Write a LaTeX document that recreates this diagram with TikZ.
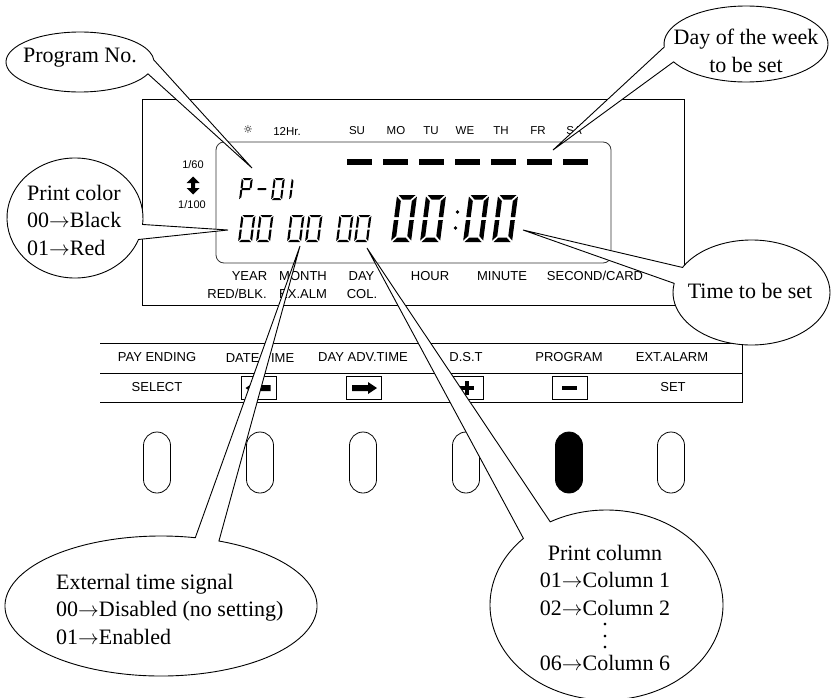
\documentclass[tikz,border=0pt]{standalone}
\usepackage{fontspec}
\setmainfont{Liberation Serif}
\setsansfont{Liberation Sans}
\newfontfamily\dejavu{DejaVu Sans}
\usetikzlibrary{arrows.meta}
% seven-segment pieces (local coords: origin bottom-left, y downwards)
\newcommand\sgsA{\fill ({\sgG},{-\sgH}) -- ({\sgW-\sgG},{-\sgH}) -- ({\sgW-\sgG-\sgT},{-\sgH+\sgT}) -- ({\sgG+\sgT},{-\sgH+\sgT}) -- cycle;}
\newcommand\sgsD{\fill ({\sgG},0) -- ({\sgW-\sgG},0) -- ({\sgW-\sgG-\sgT},{-\sgT}) -- ({\sgG+\sgT},{-\sgT}) -- cycle;}
\newcommand\sgsF{\fill (0,{-\sgH+\sgG}) -- ({\sgT},{-\sgH+\sgG+\sgT}) -- ({\sgT},{-\sgH/2-\sgG}) -- (0,{-\sgH/2-\sgG}) -- cycle;}
\newcommand\sgsE{\fill (0,{-\sgH/2+\sgG}) -- ({\sgT},{-\sgH/2+\sgG}) -- ({\sgT},{-\sgG-\sgT}) -- (0,{-\sgG}) -- cycle;}
\newcommand\sgsB{\fill ({\sgW},{-\sgH+\sgG}) -- ({\sgW-\sgT},{-\sgH+\sgG+\sgT}) -- ({\sgW-\sgT},{-\sgH/2-\sgG}) -- ({\sgW},{-\sgH/2-\sgG}) -- cycle;}
\newcommand\sgsC{\fill ({\sgW},{-\sgH/2+\sgG}) -- ({\sgW-\sgT},{-\sgH/2+\sgG}) -- ({\sgW-\sgT},{-\sgG-\sgT}) -- ({\sgW},{-\sgG}) -- cycle;}
\newcommand\sgsG{\fill ({\sgG},{-\sgH/2}) -- ({\sgG+\sgT/2},{-\sgH/2-\sgT/2}) -- ({\sgW-\sgG-\sgT/2},{-\sgH/2-\sgT/2}) -- ({\sgW-\sgG},{-\sgH/2}) -- ({\sgW-\sgG-\sgT/2},{-\sgH/2+\sgT/2}) -- ({\sgG+\sgT/2},{-\sgH/2+\sgT/2}) -- cycle;}
\newcommand\digitzero[2]{\begin{scope}[shift={(#1,#2)},xslant=\sgK]\sgsA\sgsB\sgsC\sgsD\sgsE\sgsF\end{scope}}
\newcommand\digitP[2]{\begin{scope}[shift={(#1,#2)},xslant=\sgK]\sgsA\sgsB\sgsF\sgsE\sgsG\end{scope}}
\newcommand\digitdash[2]{\begin{scope}[shift={(#1,#2)},xslant=\sgK]\sgsG\end{scope}}
\newcommand\digitone[2]{\begin{scope}[shift={(#1,#2)},xslant=\sgK]\sgsE\sgsF\end{scope}}
\newcommand\tallvdots{\smash{\makebox[0pt]{\raisebox{17pt}{.}}\makebox[0pt]{\raisebox{5.5pt}{.}}\makebox[0pt]{\raisebox{-6pt}{.}}}}
\newcommand\arr{$\rightarrow$}
\tikzset{
  lbl/.style={font=\sffamily\fontsize{13}{15}\selectfont, inner sep=0pt},
  toplbl/.style={font=\sffamily\fontsize{11.5}{13}\selectfont, inner sep=0pt},
  smalllbl/.style={font=\sffamily\fontsize{11}{13}\selectfont, inner sep=0pt},
  btxt/.style={font=\fontsize{22}{27.5}\selectfont, inner sep=0pt},
  bubble/.style={draw, fill=white, line width=0.9pt, line join=miter},
  keybox/.style={draw, line width=0.8pt, minimum width=35pt, minimum height=23pt, inner sep=0pt},
  keyoval/.style={draw, line width=0.8pt, minimum width=27pt, minimum height=61pt, rounded corners=13.5pt, inner sep=0pt},
}
\begin{document}
\begin{tikzpicture}[x=1pt,y=-1pt]
\useasboundingbox (0,0) rectangle (832,698);

% panel and LCD window
\draw[line width=0.9pt] (142,99) rectangle (684,305);
\draw[line width=0.8pt, black!80, rounded corners=8pt] (216,142) rectangle (611,263);

% labels above the LCD
\node[font=\dejavu\fontsize{11}{11}\selectfont, inner sep=0pt] (sun) at (248,129) {☼};
\node[toplbl] (h12) at (287,131) {12Hr.};
\node[toplbl] (su) at (357,131) {SU};
\node[toplbl] (mo) at (396,131) {MO};
\node[toplbl] (tu) at (431,131) {TU};
\node[toplbl] (we) at (465,131) {WE};
\node[toplbl] (th) at (501,131) {TH};
\node[toplbl] (fr) at (538,131) {FR};
\node[toplbl] (sa) at (574,131) {SA};

% day-of-week bars
\foreach \i in {0,...,6} \fill ({347+36*\i},158.5) rectangle ++(25,6.5);

% 1/60 - 1/100
\node[smalllbl] (r60) at (193,165) {1/60};
\node[smalllbl] (r100) at (192,205) {1/100};
\fill (193,176.5) -- (199.5,183) -- (195,183) -- (195,188) -- (199.5,188) -- (193,194.5) -- (186.5,188) -- (191,188) -- (191,183) -- (186.5,183) -- cycle;

% seven-segment digits
\def\sgK{0.13}
\def\sgW{11}\def\sgH{22}\def\sgT{2}\def\sgG{0.8}
\digitP{239}{200}\digitdash{255}{200}\digitzero{271}{200}\digitone{289}{200}
\def\sgW{14}\def\sgH{27}\def\sgT{2.2}\def\sgG{1}
\digitzero{238}{242}\digitzero{256}{242}
\digitzero{287}{242}\digitzero{305}{242}
\digitzero{336}{242}\digitzero{354}{242}
\def\sgW{20}\def\sgH{47}\def\sgT{4.5}\def\sgG{1.5}
\digitzero{391}{242}\digitzero{420}{242}
\digitzero{463}{242}\digitzero{492}{242}
\fill (457.5,212) circle (1.9);
\fill (455.5,228) circle (1.9);

% labels below the LCD
\node[lbl] (year) at (249.5,276) {YEAR};
\node[lbl] (month) at (303,276) {MONTH};
\node[lbl] (day) at (361.5,276) {DAY};
\node[lbl] (hour) at (430,276) {HOUR};
\node[lbl] (minute) at (502,276) {MINUTE};
\node[lbl] (second) at (595,276) {SECOND/CARD};
\node[lbl] (redblk) at (237,294) {RED/BLK.};
\node[lbl] (exalm) at (303,294) {EX.ALM};
\node[lbl] (col) at (362,294) {COL.};

% key legend strip
\draw[line width=0.9pt] (100,343) -- (742,343) -- (742,402) -- (100,402);
\draw[line width=0.9pt] (100,373) -- (742,373);
\node[lbl] (payend) at (157,357.5) {PAY ENDING};
\node[lbl] (datetime) at (260,357.5) {DATE/TIME};
\node[lbl] (dayadv) at (363,357.5) {DAY ADV.TIME};
\node[lbl] (dst) at (466,357.5) {D.S.T};
\node[lbl] (program) at (569,357.5) {PROGRAM};
\node[lbl] (extalarm) at (672,357.5) {EXT.ALARM};
\node[lbl] (select) at (157,387.5) {SELECT};
\node[keybox] (kL) at (259,388) {};
\node[keybox] (kR) at (363.5,388) {};
\node[keybox] (kP) at (466,388) {};
\node[keybox] (kM) at (569.5,388) {};
\node[lbl] (set) at (673,387.5) {SET};
\fill (352,385) -- (368,385) -- (368,382) -- (377,388) -- (368,394) -- (368,391) -- (352,391) -- cycle;
\fill (270.5,385) -- (254.5,385) -- (254.5,382) -- (245.5,388) -- (254.5,394) -- (254.5,391) -- (270.5,391) -- cycle;
\fill (460,386) rectangle (474,390);
\fill (465,381) rectangle (469,395);
\fill (562,386) rectangle (577,390);

% keys
\node[keyoval] (b1) at (157,462.5) {};
\node[keyoval] (b2) at (260,462.5) {};
\node[keyoval] (b3) at (363,462.5) {};
\node[keyoval] (b4) at (466,462.5) {};
\node[keyoval, fill=black] (b5) at (569,462.5) {};
\node[keyoval] (b6) at (671,462.5) {};

% callout tips
\coordinate (tipProg) at (252,168);
\coordinate (tipColor) at (228,230);
\coordinate (tipDay) at (553,150);
\coordinate (tipTime) at (523,230);
\coordinate (tipExt) at (300,246);
\coordinate (tipCol) at (367,248);

% callouts
\draw[bubble] (80,62) ++(23.3:74 and 30) arc[start angle=23.3, end angle=356.1, x radius=74, y radius=30] -- (tipProg) -- cycle;
\draw[bubble] (75,218) ++(21:68 and 60) arc[start angle=21, end angle=366.2, x radius=68, y radius=60] -- (tipColor) -- cycle;
\draw[bubble] (746,44) ++(175.5:82 and 38) arc[start angle=175.5, end angle=512, x radius=82, y radius=38] -- (tipDay) -- cycle;
\draw[bubble] (751.5,292.5) ++(208.5:78.5 and 52.5) arc[start angle=208.5, end angle=550, x radius=78.5, y radius=52.5] -- (tipTime) -- cycle;
\draw[bubble] (161,606) ++(291.8:156 and 70) arc[start angle=291.8, end angle=642.7, x radius=156, y radius=70] -- (tipExt) -- cycle;
\draw[bubble] (606.5,605) ++(241.1:116.5 and 95) arc[start angle=241.1, end angle=584.5, x radius=116.5, y radius=95] -- (tipCol) -- cycle;

% callout texts
\node[btxt] (tProg) at (80,58) {Program No.};
\node[btxt, align=left, anchor=west] (tColor) at (27,220.3) {Print color\\00\arr Black\\01\arr Red};
\node[btxt, align=center] (tDay) at (746,50.8) {Day of the week\\to be set};
\node[btxt] (tTime) at (750,290.5) {Time to be set};
\node[btxt, align=left, anchor=west] (tExt) at (56,609.3) {External time signal\\00\arr Disabled (no setting)\\01\arr Enabled};
\node[btxt, align=center] (tCol) at (605,607.8) {Print column\\01\arr Column 1\\02\arr Column 2\\\tallvdots\\06\arr Column 6};
\end{tikzpicture}
\end{document}
